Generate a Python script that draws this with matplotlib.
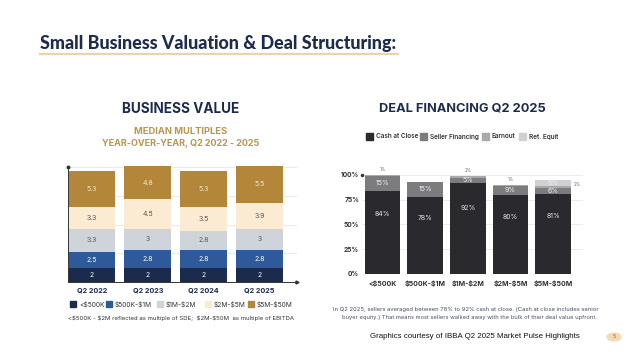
import numpy as np
import matplotlib.pyplot as plt
from matplotlib.patches import Circle, Rectangle

plt.rcParams['font.family'] = ['Inter', 'DejaVu Sans']

# ---- data -----------------------------------------------------------------
quarters = ['Q2 2022', 'Q2 2023', 'Q2 2024', 'Q2 2025']
value_bands = ['<$500K', '$500K-$1M', '$1M-$2M', '$2M-$5M', '$5M-$50M']
mult_under_500k = [2, 2, 2, 2]
mult_500k_1m = [2.5, 2.8, 2.8, 2.8]
mult_1m_2m = [3.3, 3, 2.8, 3]
mult_2m_5m = [3.3, 4.5, 3.5, 3.9]
mult_5m_50m = [5.3, 4.8, 5.3, 5.5]

deal_sizes = ['<$500K', '$500K-$1M', '$1M-$2M', '$2M-$5M', '$5M-$50M']
financing_types = ['Cash at Close', 'Seller Financing', 'Earnout', 'Ret. Equit']
cash_at_close = [84, 78, 92, 80, 81]
seller_financing = [15, 15, 5, 9, 6]
earnout = [1, 0, 2, 1, 2]
ret_equity = [0, 0, 0, 0, 6]

NAVY = '#1d2c4c'
GOLD_TXT = '#b8964f'
value_colors = ['#1b2b4d', '#2e5a9c', '#cfd4db', '#fcebd3', '#b3863a']
value_txt = ['white', 'white', '#555555', '#555555', '#f6e8cc']
fin_colors = ['#2a292d', '#7c7c7e', '#a9a9ab', '#cfd0d4']

W, H = 640, 360
fig = plt.figure(figsize=(6.4, 3.6), dpi=100)
renderer = fig.canvas.get_renderer()


def px(x, y):
    return x / W, 1 - y / H


def esc(s):
    # dollar signs are literal here, not mathtext
    return s.replace('$', r'\$')


def fit(t, width):
    # shrink/grow the font so the text spans `width` pixels
    bb = t.get_window_extent(renderer=renderer)
    t.set_fontsize(t.get_fontsize() * width / bb.width)
    return t


# ---- header ---------------------------------------------------------------
t = fig.text(*px(40, 43), 'Small Business Valuation & Deal Structuring:',
             family=['Lato', 'DejaVu Sans'], weight='black', color=NAVY,
             fontsize=14, va='center', ha='left')
fit(t, 358)
fig.add_artist(plt.Line2D([40 / W, 398 / W], [1 - 54 / H] * 2,
                          color='#eed3a4', lw=1.6))

fit(fig.text(*px(181, 109), 'BUSINESS VALUE', weight='bold', color=NAVY,
             fontsize=10, ha='center', va='center'), 117)
fit(fig.text(*px(181, 131), 'MEDIAN MULTIPLES', weight='bold', color=GOLD_TXT,
             fontsize=7, ha='center', va='center'), 93)
fit(fig.text(*px(181, 144), 'YEAR-OVER-YEAR, Q2 2022 - 2025', weight='bold',
             color=GOLD_TXT, fontsize=7, ha='center', va='center'), 158)
fit(fig.text(*px(462, 109), 'DEAL FINANCING Q2 2025', weight='bold',
             color=NAVY, fontsize=10, ha='center', va='center'), 166)

# ---- left: stacked multiples ----------------------------------------------
axL = fig.add_axes([68 / W, 1 - 282 / H, 229 / W, 115 / H])
series = [mult_under_500k, mult_500k_1m, mult_1m_2m, mult_2m_5m, mult_5m_50m]
x = np.arange(len(quarters))
bottom = np.zeros(len(quarters))
for vals, col, tc in zip(series, value_colors, value_txt):
    vals = np.array(vals, dtype=float)
    axL.bar(x, vals, 0.84, bottom=bottom, color=col, zorder=2, clip_on=False)
    for xi, b, v in zip(x, bottom, vals):
        axL.text(xi, b + v / 2, f'{v:g}', ha='center', va='center',
                 fontsize=5, color=tc, zorder=3)
    bottom += vals
axL.set_xlim(-0.43, 3.67)
axL.set_ylim(0, 17)
axL.set_yticks(np.linspace(0, 17, 5))
axL.yaxis.grid(True, color='#e6e6e6', lw=0.6, zorder=0)
axL.set_yticklabels([])
axL.tick_params(length=0)
axL.set_xticks(x)
axL.set_xticklabels(quarters, weight='bold', color=NAVY, fontsize=5.2)
axL.tick_params(axis='x', pad=4)
for s in ['top', 'right']:
    axL.spines[s].set_visible(False)
axL.spines['left'].set_color('#333333')
axL.spines['bottom'].set_color('#333333')
axL.spines['left'].set_linewidth(0.7)
axL.spines['bottom'].set_linewidth(0.7)
axL.plot(0, 1, 'o', ms=1.8, color='#333333', transform=axL.transAxes,
         clip_on=False)
axL.plot(1, 0, '>', ms=2.2, color='#333333', transform=axL.transAxes,
         clip_on=False)

# left legend (drawn by hand to keep spacing of the slide)
leg_x = [70, 106, 157, 205, 248]
for lx, lab, col in zip(leg_x, value_bands, value_colors):
    fig.add_artist(Rectangle(px(lx, 307), 6 / W, 6 / H, color=col,
                             transform=fig.transFigure))
    fig.text(*px(lx + 9, 304), esc(lab), fontsize=4.8, color='#333333',
             va='center', ha='left')
fit(fig.text(*px(68, 318),
             esc('<$500K - $2M reflected as multiple of SDE;  '
                 '$2M-$50M  as multiple of EBITDA'),
             fontsize=4.5, color='#333333', va='center', ha='left'), 226)

# ---- right: deal financing ------------------------------------------------
axR = fig.add_axes([362 / W, 1 - 274 / H, 221 / W, 109 / H])
xs = np.arange(len(deal_sizes))
fin = [cash_at_close, seller_financing, earnout, ret_equity]
bottom = np.zeros(len(deal_sizes))
for k, (vals, col) in enumerate(zip(fin, fin_colors)):
    vals = np.array(vals, dtype=float)
    axR.bar(xs, vals, 0.84, bottom=bottom, color=col, zorder=2)
    for xi, b, v in zip(xs, bottom, vals):
        if v == 0:
            continue
        lab = f'{v:g}%'
        if k == 0:
            axR.text(xi, b + v * 0.72, lab, ha='center', va='center',
                     fontsize=5, color='#e6e6e6', zorder=3)
        elif k == 2:
            if ret_equity[xi] > 0:
                axR.text(xi + 0.47, b + v / 2 + 2, lab, ha='left',
                         va='center', fontsize=3.2, color='#666666')
            else:
                axR.text(xi, b + v + 5, lab, ha='center', va='center',
                         fontsize=3.2, color='#666666')
        else:
            axR.text(xi, b + v / 2, lab, ha='center', va='center',
                     fontsize=5, color='#eeeeee', zorder=3)
    bottom += vals
axR.set_xlim(-0.48, 4.7)
axR.set_ylim(0, 110)
axR.set_yticks([0, 25, 50, 75, 100])
axR.set_yticklabels(['0%', '25%', '50%', '75%', '100%'], weight='bold',
                    color='#333333', fontsize=4.8)
axR.yaxis.grid(True, color='#e8e8e8', lw=0.6, zorder=0)
axR.tick_params(length=0, pad=2)
axR.set_xticks(xs)
axR.set_xticklabels([esc(d) for d in deal_sizes], weight='bold',
                    color='#333333', fontsize=5)
axR.tick_params(axis='x', pad=4)
for s in axR.spines.values():
    s.set_visible(False)
axR.plot(0, 100, 'o', ms=1.5, color='#333333', clip_on=False,
         transform=axR.get_yaxis_transform())

leg_x2 = [366, 420, 482, 519]
for lx, lab, col in zip(leg_x2, financing_types, fin_colors):
    fig.add_artist(Rectangle(px(lx, 140), 7 / W, 7 / H, color=col,
                             transform=fig.transFigure))
    fig.text(*px(lx + 10, 136.5), lab, fontsize=4.6, weight='semibold',
             color='#333333', va='center', ha='left')

# ---- footer ---------------------------------------------------------------
fit(fig.text(*px(466, 310),
             'In Q2 2025, sellers averaged between 78% to 92% cash at close. '
             '(Cash at close includes senior',
             fontsize=4, color='#4a4f66', ha='center', va='center'), 266)
fit(fig.text(*px(469, 318),
             'buyer equity.) That means most sellers walked away with the bulk '
             'of their deal value upfront.',
             fontsize=4, color='#4a4f66', ha='center', va='center'), 248)
fit(fig.text(*px(475, 337),
             'Graphics courtesy of IBBA Q2 2025 Market Pulse Highlights',
             family=['Liberation Sans', 'DejaVu Sans'], fontsize=6,
             color='#111111', ha='center', va='center'), 212)
fig.add_artist(Circle(px(614, 337), 7 / W, color='#f3dcb5',
                      transform=fig.transFigure))
fig.text(*px(614, 337), '5', fontsize=4, color='#8a6a30', ha='center',
         va='center')

fig.savefig('out.png', dpi=100)
